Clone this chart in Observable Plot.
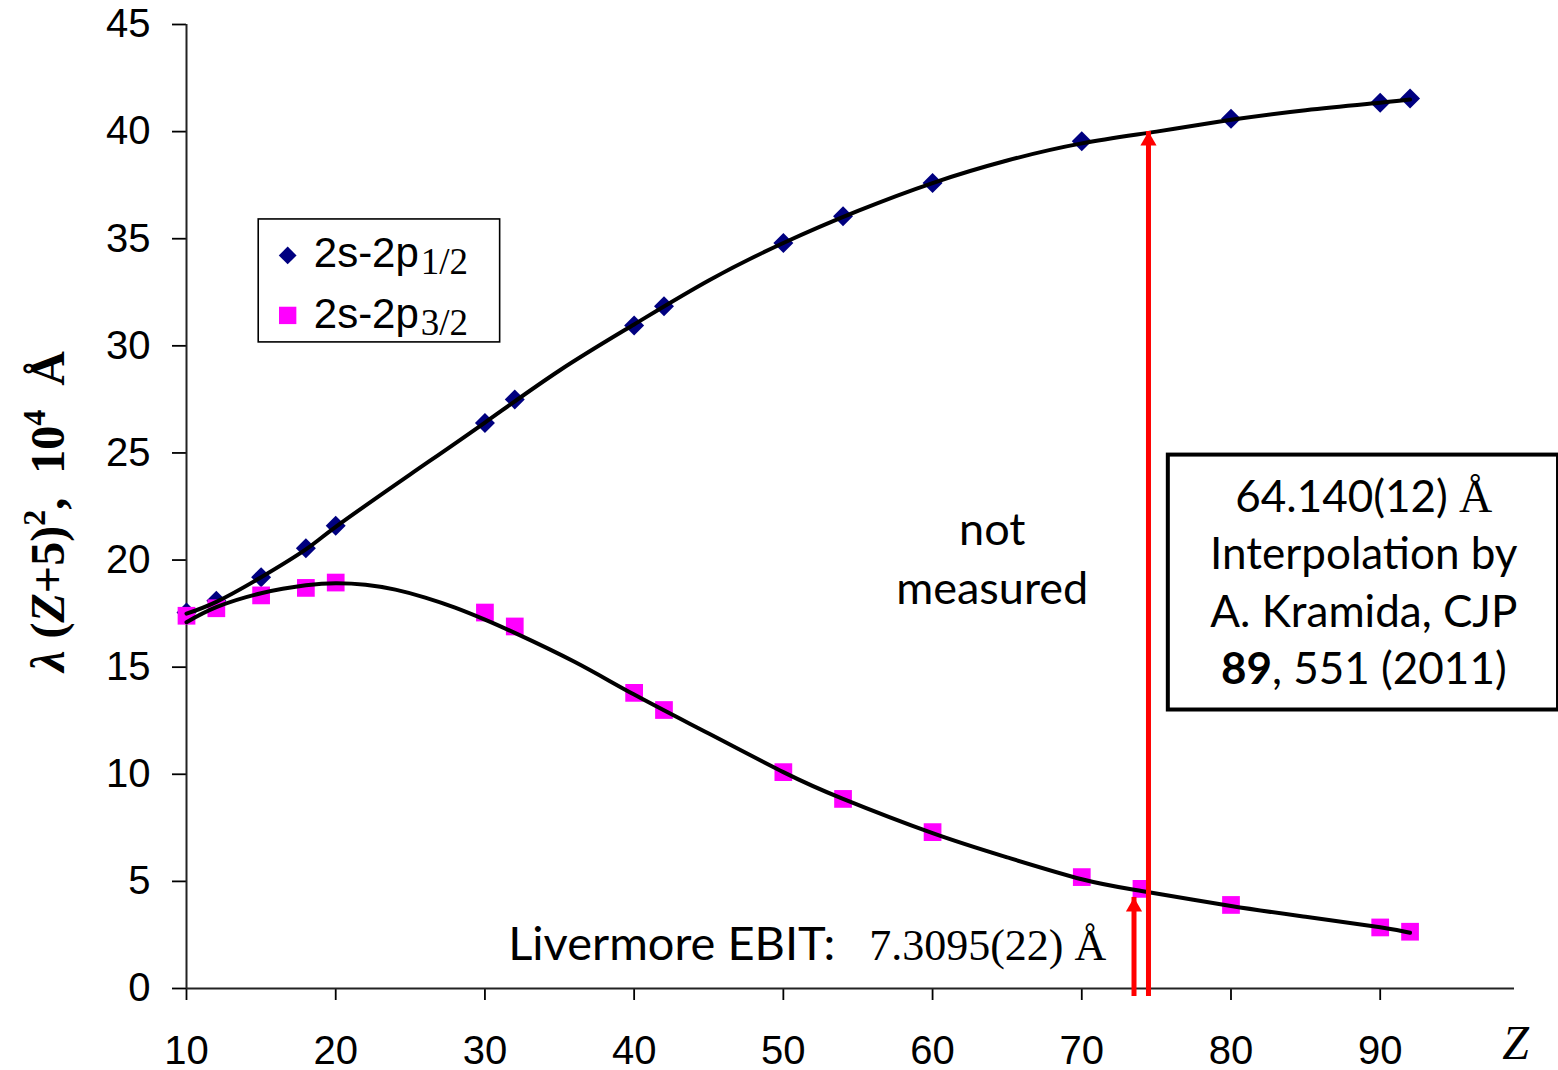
<!DOCTYPE html>
<html>
<head>
<meta charset="utf-8">
<script src="https://cdn.jsdelivr.net/npm/d3@7"></script>
<script src="https://cdn.jsdelivr.net/npm/@observablehq/plot@0.6"></script>
<style>
html,body{margin:0;padding:0;background:#fff;}
#chart svg{display:block;}
</style>
</head>
<body>
<div id="chart"></div>
<script>
// ---------- data ----------
const xTicks = [10, 20, 30, 40, 50, 60, 70, 80, 90];
const yTicks = [0, 5, 10, 15, 20, 25, 30, 35, 40, 45];

// 2s-2p1/2 measured points
const zP12 = [10, 12, 15, 18, 20, 30, 32, 40, 42, 50, 54, 60, 70, 80, 90, 92];
const vP12 = [17.55, 18.1, 19.2, 20.55, 21.6, 26.4, 27.5, 30.95, 31.85, 34.8, 36.05, 37.6, 39.55, 40.6, 41.35, 41.55];

// 2s-2p3/2 measured points
const zP32 = [10, 12, 15, 18, 20, 30, 32, 40, 42, 50, 54, 60, 70, 74, 80, 90, 92];
const vP32 = [17.4, 17.75, 18.35, 18.7, 18.95, 17.55, 16.9, 13.8, 13.0, 10.1, 8.85, 7.3, 5.2, 4.65, 3.9, 2.85, 2.65];

// smooth fit curves
const zFit12 = [10, 12, 15, 18, 20, 25, 30, 35, 40, 45, 50, 55, 60, 65, 70, 75, 80, 85, 90, 92];
const vFit12 = [17.5, 18.05, 19.2, 20.5, 21.55, 24.0, 26.42, 28.85, 31.0, 33.05, 34.8, 36.3, 37.6, 38.65, 39.45, 40.0, 40.55, 41.0, 41.35, 41.5];
const zFit32 = [10, 12, 15, 18, 20, 22, 24, 26, 28, 30, 32, 36, 40, 45, 50, 54, 60, 65, 70, 74, 80, 85, 90, 92];
const vFit32 = [17.1, 17.8, 18.45, 18.82, 18.92, 18.85, 18.62, 18.25, 17.78, 17.22, 16.6, 15.25, 13.72, 11.9, 10.1, 8.85, 7.25, 6.12, 5.1, 4.55, 3.85, 3.35, 2.86, 2.6];

// red arrows (Z position, tip value)
const arrowZ = [74.47, 73.5];
const arrowTip = [40.0, 4.25];

// legend
const legendLabels = ["2s-2p", "2s-2p"];
const legendSubs = ["1/2", "3/2"];

// annotation texts
const notMeasuredText = "not\nmeasured";
const boxLines = ["64.140(12) Å", "Interpolation by", "A. Kramida, CJP", "89, 551 (2011)"];
const ebitLabel = "Livermore EBIT:";
const ebitValue = "7.3095(22) Å";
const yLabel = "λ (Z+5)², 10⁴ Å";
const xLabel = "Z";

// ---------- build ----------
const d12 = zP12.map((z, i) => ({z, v: vP12[i]}));
const d32 = zP32.map((z, i) => ({z, v: vP32[i]}));
const f12 = zFit12.map((z, i) => ({z, v: vFit12[i]}));
const f32 = zFit32.map((z, i) => ({z, v: vFit32[i]}));
const arrows = arrowZ.map((z, i) => ({z, tip: arrowTip[i]}));

const SANS = "'Liberation Sans', Arial, sans-serif";
const CAL = "Lato, 'Open Sans', sans-serif";
const SERIF = "'Liberation Serif', 'Times New Roman', serif";
const NAVY = "#000080", MAGENTA = "#ff00ff", RED = "#ff0000";

const chart = Plot.plot({
  width: 1558,
  height: 1070,
  marginLeft: 186,
  marginRight: 44,
  marginTop: 24,
  marginBottom: 82,
  style: {fontFamily: SANS, fontSize: "40px", background: "#fff", color: "#000", overflow: "visible"},
  x: {domain: [10, 99]},
  y: {domain: [0, 45]},
  marks: [
    Plot.axisX({ticks: xTicks, tickSize: 12, tickPadding: 35, label: null, strokeWidth: 1.8, fontSize: 40, fontFamily: SANS}),
    Plot.axisY({ticks: yTicks, tickSize: 14, tickPadding: 22, label: null, strokeWidth: 1.8, fontSize: 40, fontFamily: SANS}),
    Plot.ruleY([0], {stroke: "#222", strokeWidth: 2}),
    Plot.ruleX([10], {stroke: "#222", strokeWidth: 2}),

    // legend box
    Plot.rect([0], {x1: 14.84, x2: 31.02, y1: 30.16, y2: 35.9, fill: "#fff", stroke: "#000", strokeWidth: 1.6}),
    Plot.dot([0], {x: 16.78, y: 34.22, symbol: "diamond2", r: 8, fill: NAVY, stroke: "none"}),
    Plot.dot([0], {x: 16.78, y: 31.42, symbol: "square", r: 9.8, fill: MAGENTA, stroke: "none"}),
    Plot.text(legendLabels, {x: 18.53, y: [33.66, 30.81], text: d => d, textAnchor: "start", lineAnchor: "bottom", fontSize: 42, fontFamily: SANS}),

    // data markers
    Plot.dot(d12, {x: "z", y: "v", symbol: "diamond2", r: 9, fill: NAVY, stroke: "none"}),
    Plot.dot(d32, {x: "z", y: "v", symbol: "square", r: 10, fill: MAGENTA, stroke: "none"}),

    // fit curves
    Plot.line(f12, {x: "z", y: "v", curve: "natural", stroke: "#000", strokeWidth: 4}),
    Plot.line(f32, {x: "z", y: "v", curve: "natural", stroke: "#000", strokeWidth: 4}),

    // red arrows
    Plot.ruleX(arrows, {x: "z", y1: 0, y2: "tip", stroke: RED, strokeWidth: 5, insetTop: 8}),
    Plot.dot(arrows, {x: "z", y: "tip", symbol: "triangle", r: 6, fill: RED, stroke: "none", dy: 9.3}),

    // annotation box
    Plot.rect([0], {x1: 75.8, x2: 101.95, y1: 13.0, y2: 24.9, fill: "#fff", stroke: "#000", strokeWidth: 4}),
    Plot.text([boxLines.join("\n")], {x: 88.9, y: 14.22, text: d => d, lineAnchor: "bottom", lineHeight: 1.3, fontSize: 44, fontFamily: CAL}),

    // "not measured"
    Plot.text([notMeasuredText], {x: 64.0, y: 17.97, text: d => d, lineAnchor: "bottom", lineHeight: 1.3, fontSize: 45, fontFamily: CAL}),

    // Livermore EBIT
    Plot.text([ebitLabel], {x: 31.56, y: 1.31, text: d => d, textAnchor: "start", lineAnchor: "bottom", fontSize: 47, fontFamily: CAL}),

    // axis titles
    Plot.text([yLabel], {frameAnchor: "left", text: d => d, rotate: -90, dx: -123, dy: 5, textAnchor: "middle", lineAnchor: "bottom", fontSize: 48, fontFamily: SERIF, fontWeight: "bold"}),
    Plot.text([xLabel], {x: 99.07, y: -3.3, text: d => d, lineAnchor: "bottom", fontSize: 48, fontFamily: SERIF, fontStyle: "italic"})
  ]
});

document.getElementById("chart").append(chart);

// ---------- rich text touches (sub/superscripts, mixed fonts) ----------
const svg = d3.select(chart);
const findText = (sel, s) => svg.selectAll(sel).filter(function () { return this.textContent === s; });

findText("text", "2s-2p").each(function (_, i) {
  d3.select(this).append("tspan")
    .attr("font-family", SERIF)
    .attr("font-size", 37)
    .attr("dx", 2)
    .attr("dy", 7)
    .text(legendSubs[i]);
});

findText("tspan", boxLines[0]).each(function () {
  const t = d3.select(this);
  t.text("64.140(12) ");
  t.append("tspan").attr("font-family", SERIF).attr("font-size", 46).text("Å");
});
findText("tspan", boxLines[3]).each(function () {
  const t = d3.select(this);
  t.text("");
  t.append("tspan").attr("font-weight", "bold").text("89");
  t.append("tspan").text(", 551 (2011)");
});

findText("text", ebitLabel).each(function () {
  d3.select(this).append("tspan")
    .attr("font-family", SERIF)
    .attr("font-size", 44)
    .attr("dx", 34)
    .text(ebitValue);
});

findText("text", yLabel).each(function () {
  const t = d3.select(this);
  t.text("").style("white-space", "pre");
  const parts = [
    {s: "λ", it: true},
    {s: " ("},
    {s: "Z", it: true},
    {s: "+5)"},
    {s: "2", sup: true},
    {s: ",  10"},
    {s: "4", sup: true},
    {s: "  Å"}
  ];
  let raised = false;
  for (const p of parts) {
    const sp = t.append("tspan").text(p.s);
    if (p.it) sp.attr("font-style", "italic");
    if (p.sup) { sp.attr("font-size", 32).attr("dy", -19); raised = true; }
    else if (raised) { sp.attr("dy", 19); raised = false; }
  }
});
</script>
</body>
</html>
